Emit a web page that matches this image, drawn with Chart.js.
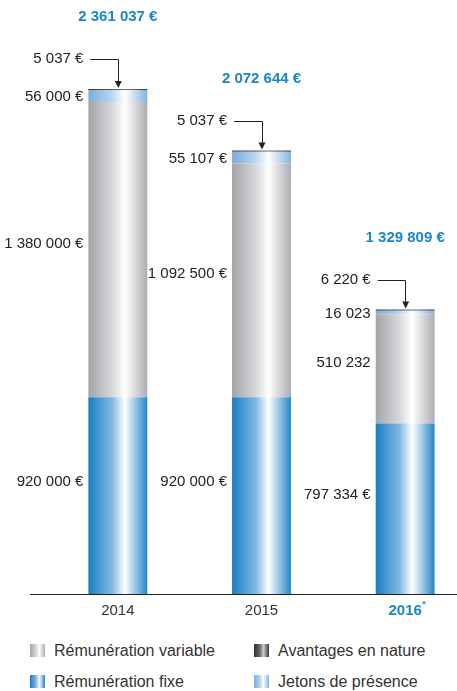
<!DOCTYPE html>
<html>
<head>
<meta charset="utf-8">
<script src="https://cdn.jsdelivr.net/npm/chart.js@4.4.1/dist/chart.umd.min.js"></script>
<style>
  html, body { margin: 0; padding: 0; background: #fff; overflow: hidden; }
  #wrap { position: relative; width: 457px; height: 691px; overflow: hidden; }
  #chart { position: absolute; left: 0; top: 0; }
  .legend { position: absolute; font-family: "Liberation Sans Narrow", "Liberation Sans", Arial, sans-serif; font-size: 16px; color: #333; }
  .legend span.sw { position: absolute; left: 0; top: 2px; width: 15px; height: 13px; }
  .legend span.tx { position: absolute; left: 24px; top: 0; white-space: nowrap; line-height: 17px; }
</style>
</head>
<body>
<div id="wrap">
  <canvas id="chart" width="480" height="634"></canvas>
  <div class="legend" style="left:30px;top:642px"><span class="sw" id="sw-var"></span><span class="tx">Rémunération variable</span></div>
  <div class="legend" style="left:254px;top:642px"><span class="sw" id="sw-av"></span><span class="tx">Avantages en nature</span></div>
  <div class="legend" style="left:30px;top:673px"><span class="sw" id="sw-fix"></span><span class="tx">Rémunération fixe</span></div>
  <div class="legend" style="left:254px;top:673px"><span class="sw" id="sw-jet"></span><span class="tx">Jetons de présence</span></div>
</div>
<script>
// Data
const years = ['2014', '2015', '2016'];
const fixe = [920000, 920000, 797334];
const variable = [1380000, 1092500, 510232];
const jetons = [56000, 55107, 16023];
const avantages = [5037, 5037, 6220];
const totals = [2361037, 2072644, 1329809];
// 2016 labels for these series are printed without the euro sign
const noEuro = { variable: [false, false, true], jetons: [false, false, true] };

const FONT = '"Liberation Sans Narrow", "Liberation Sans", Arial, sans-serif';
const BLUE_TXT = '#1b87c9';
const BAR_PCT = 0.41;

// Gradient colour stops (edge, light, white, right edge)
const palettes = {
    fixe: ['#1a7cc3', '#7fb8e2', '#ffffff', '#2584c8'],
    variable: ['#a3a4a8', '#d6d7d9', '#ffffff', '#acadb1'],
    jetons: ['#78aede', '#b9d6ef', '#ffffff', '#80b3df'],
    avantages: ['#333333', '#555555', '#777777', '#333333']
};

function fmt(v) {
    return String(v).replace(/\B(?=(\d{3})+(?!\d))/g, ' ');
}

function cssGradient(p) {
    return `linear-gradient(to right, ${p[0]} 0%, ${p[1]} 40%, ${p[2]} 62%, ${p[3]} 100%)`;
}

function barGradient(p) {
    return function(c) {
        const chart = c.chart;
        const xs = chart.scales.x;
        if (!xs || !chart.chartArea) return p[0];
        const x = xs.getPixelForValue(c.dataIndex);
        const hw = xs.width / years.length * BAR_PCT / 2;
        const g = chart.ctx.createLinearGradient(x - hw, 0, x + hw, 0);
        g.addColorStop(0, p[0]);
        g.addColorStop(0.4, p[1]);
        g.addColorStop(0.62, p[2]);
        g.addColorStop(1, p[3]);
        return g;
    };
}

document.getElementById('sw-var').style.background = cssGradient(palettes.variable);
document.getElementById('sw-av').style.background = cssGradient(['#2e2e2e', '#6a6a6a', '#cfcfcf', '#3a3a3a']);
document.getElementById('sw-fix').style.background = cssGradient(palettes.fixe);
document.getElementById('sw-jet').style.background = cssGradient(palettes.jetons);

// Labels beside bars, arrows and totals
const labelsPlugin = {
    id: 'barLabels',
    afterDraw(chart) {
        const ctx = chart.ctx;
        const metas = [0, 1, 2, 3].map(i => chart.getDatasetMeta(i));
        ctx.save();
        // axis line
        ctx.strokeStyle = '#222';
        ctx.lineWidth = 1;
        const yb = Math.round(chart.chartArea.bottom) + 0.5;
        ctx.beginPath();
        ctx.moveTo(30, yb);
        ctx.lineTo(chart.width, yb);
        ctx.stroke();

        // superscript asterisk on 2016
        const xs = chart.scales.x;
        ctx.fillStyle = BLUE_TXT;
        ctx.font = 'bold 15px ' + FONT;
        const w16 = ctx.measureText(years[2]).width;
        ctx.font = 'bold 9px ' + FONT;
        ctx.textAlign = 'left';
        ctx.textBaseline = 'middle';
        ctx.fillText('*', xs.getPixelForValue(2) + w16 / 2 + 0.5, yb + 10);

        for (let i = 0; i < years.length; i++) {
            const fx = metas[0].data[i], vr = metas[1].data[i], jt = metas[2].data[i], av = metas[3].data[i];
            const left = fx.x - fx.width / 2;
            const top = av.y;
            const tx = left - 5;
            ctx.fillStyle = '#222';
            ctx.font = '15px ' + FONT;
            ctx.textAlign = 'right';
            ctx.fillText(fmt(fixe[i]) + ' €', tx, (fx.y + fx.base) / 2 - 14);
            ctx.fillText(fmt(variable[i]) + (noEuro.variable[i] ? '' : ' €'), tx, (vr.y + vr.base) / 2 - 6);
            ctx.fillText(fmt(jetons[i]) + (noEuro.jetons[i] ? '' : ' €'), tx, (jt.y + jt.base) / 2 + 1);

            // avantages label with arrow
            const ay = top - 30;
            ctx.fillText(fmt(avantages[i]) + ' €', tx, ay);
            ctx.strokeStyle = '#222';
            ctx.lineWidth = 1;
            ctx.beginPath();
            ctx.moveTo(left + 2, Math.round(ay) + 0.5);
            ctx.lineTo(Math.round(fx.x) + 0.5, Math.round(ay) + 0.5);
            ctx.lineTo(Math.round(fx.x) + 0.5, top - 6);
            ctx.stroke();
            ctx.fillStyle = '#222';
            ctx.beginPath();
            ctx.moveTo(fx.x - 3, top - 8);
            ctx.lineTo(fx.x + 4, top - 8);
            ctx.lineTo(fx.x + 0.5, top - 1);
            ctx.closePath();
            ctx.fill();

            // total
            ctx.fillStyle = BLUE_TXT;
            ctx.font = 'bold 15px ' + FONT;
            ctx.textAlign = 'center';
            ctx.fillText(fmt(totals[i]) + ' €', fx.x, top - 72);
        }
        ctx.restore();
    }
};

function makeDataset(label, data, key) {
    return {
        label: label,
        data: data,
        backgroundColor: barGradient(palettes[key]),
        borderWidth: 0,
        barPercentage: BAR_PCT,
        categoryPercentage: 1
    };
}

new Chart(document.getElementById('chart'), {
    type: 'bar',
    data: {
        labels: years,
        datasets: [
            makeDataset('Rémunération fixe', fixe, 'fixe'),
            makeDataset('Rémunération variable', variable, 'variable'),
            makeDataset('Jetons de présence', jetons, 'jetons'),
            makeDataset('Avantages en nature', avantages, 'avantages')
        ]
    },
    options: {
        responsive: false,
        animation: false,
        layout: { padding: { left: 46, right: 3, top: 10, bottom: 6 } },
        plugins: {
            legend: { display: false },
            tooltip: { enabled: false }
        },
        scales: {
            x: {
                stacked: true,
                grid: { display: false, drawTicks: false },
                border: { display: false },
                ticks: {
                    padding: 8,
                    color: (c) => c.index === 2 ? BLUE_TXT : '#333',
                    font: (c) => ({ family: FONT, size: 15, weight: c.index === 2 ? 'bold' : 'normal' })
                }
            },
            y: {
                stacked: true,
                display: false,
                min: 0,
                max: 2730000
            }
        }
    },
    plugins: [labelsPlugin]
});
</script>
</body>
</html>
